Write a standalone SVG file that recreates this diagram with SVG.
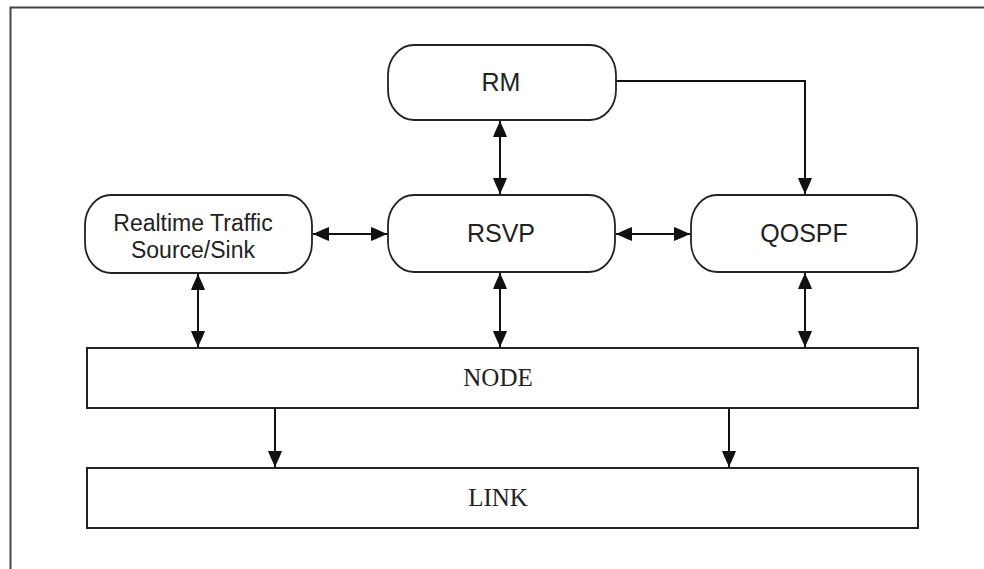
<svg xmlns="http://www.w3.org/2000/svg" width="984" height="569" viewBox="0 0 984 569">
  <style>
    .frame { fill: none; stroke: #444; stroke-width: 2; }
    .proc { fill: #fff; stroke: #222; stroke-width: 1.8; }
    .layer { fill: #fff; stroke: #222; stroke-width: 2; }
    .sans { font-family: "Liberation Sans", Arial, sans-serif; font-size: 25px; fill: #222; text-anchor: middle; dominant-baseline: central; }
    .small { font-size: 23px; }
    .serif { font-family: "Liberation Serif", "Times New Roman", serif; font-size: 25px; fill: #222; text-anchor: middle; dominant-baseline: central; }
    .link { fill: none; stroke: #111; stroke-width: 2; }
  </style>
  <defs>
    <marker id="head" markerUnits="userSpaceOnUse" markerWidth="20" markerHeight="18" viewBox="-18 -9 20 18" refX="0" refY="0" orient="auto-start-reverse">
      <path d="M0,0 L-11,-5 L-16,-7 L-16,7 L-11,5 Z" fill="#111"/>
    </marker>
  </defs>

  <rect width="984" height="569" fill="#fff"/>
  <!-- page frame: top and left edges -->
  <path class="frame" d="M10.5,569 V7.5 H984"/>

  <g id="rm">
    <rect class="proc" x="388" y="45" width="228" height="75" rx="26" ry="30"/>
    <text class="sans" x="501" y="82">RM</text>
  </g>
  <g id="realtime">
    <rect class="proc" x="85" y="195" width="227" height="78" rx="26" ry="30"/>
    <text class="sans small" x="193" y="223">Realtime Traffic</text>
    <text class="sans small" x="193" y="250">Source/Sink</text>
  </g>
  <g id="rsvp">
    <rect class="proc" x="388" y="195" width="227" height="77" rx="26" ry="30"/>
    <text class="sans" x="501" y="233">RSVP</text>
  </g>
  <g id="qospf">
    <rect class="proc" x="691" y="195" width="226" height="77" rx="26" ry="30"/>
    <text class="sans" x="804" y="233">QOSPF</text>
  </g>
  <g id="node">
    <rect class="layer" x="87" y="348" width="831" height="60"/>
    <text class="serif" x="498" y="377">NODE</text>
  </g>
  <g id="link">
    <rect class="layer" x="87" y="468" width="831" height="60"/>
    <text class="serif" x="498" y="497">LINK</text>
  </g>

  <g id="connectors">
    <path class="link" d="M616,81 H805 V194" marker-end="url(#head)"/>
    <path class="link" d="M500,121 V194" marker-start="url(#head)" marker-end="url(#head)"/>
    <path class="link" d="M313,234 H387" marker-start="url(#head)" marker-end="url(#head)"/>
    <path class="link" d="M616,234 H690" marker-start="url(#head)" marker-end="url(#head)"/>
    <path class="link" d="M198,274 V347" marker-start="url(#head)" marker-end="url(#head)"/>
    <path class="link" d="M500,273 V347" marker-start="url(#head)" marker-end="url(#head)"/>
    <path class="link" d="M805,273 V347" marker-start="url(#head)" marker-end="url(#head)"/>
    <path class="link" d="M275,408 V467" marker-end="url(#head)"/>
    <path class="link" d="M729,408 V467" marker-end="url(#head)"/>
  </g>
</svg>
